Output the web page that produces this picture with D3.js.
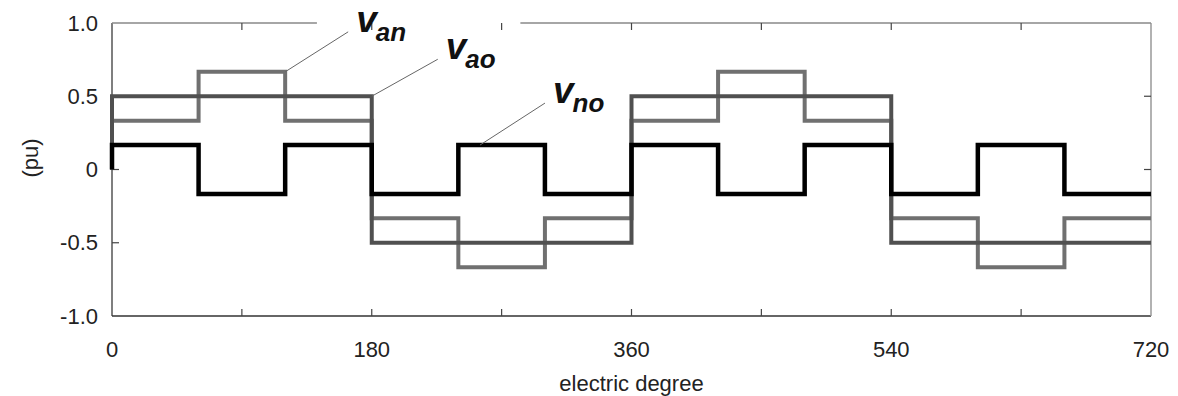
<!DOCTYPE html>
<html>
<head>
<meta charset="utf-8">
<script src="https://cdn.jsdelivr.net/npm/d3@7"></script>
<style>
  html, body { margin: 0; padding: 0; background: #fff; }
  svg text { font-family: "Liberation Sans", Arial, sans-serif; }
</style>
</head>
<body>
<div id="chart"></div>
<script>
// step boundaries (electric degree) and the value held on each 60 deg step
var degrees = [0, 60, 120, 180, 240, 300, 360, 420, 480, 540, 600, 660, 720];
var van = [1/3, 2/3, 1/3, -1/3, -2/3, -1/3, 1/3, 2/3, 1/3, -1/3, -2/3, -1/3];
var vao = [0.5, 0.5, 0.5, -0.5, -0.5, -0.5, 0.5, 0.5, 0.5, -0.5, -0.5, -0.5];
var vno = [1/6, -1/6, 1/6, -1/6, 1/6, -1/6, 1/6, -1/6, 1/6, -1/6, 1/6, -1/6];

var xTicks = [0, 90, 180, 270, 360, 450, 540, 630, 720];
var xTickLabels = [0, 180, 360, 540, 720];
var yTicks = [-1, -0.5, 0, 0.5, 1];
var yTickLabels = ["-1.0", "-0.5", "0", "0.5", "1.0"];

// labels: anchor on the curve + sub text
var labels = [
  { name: "an", deg: 120, val: 2/3, dx: 63, dy: -40 },
  { name: "ao", deg: 180, val: 0.5, dx: 66, dy: -37 },
  { name: "no", deg: 255, val: 1/6, dx: 65, dy: -42 }
];
var topGap = [142, 283]; // top frame line is broken behind the labels

var W = 1178, H = 396;
var margin = { top: 23, right: 27, bottom: 80, left: 112 },
    width = W - margin.left - margin.right,
    height = H - margin.top - margin.bottom;

var svg = d3.select("#chart").append("svg")
    .attr("width", W)
    .attr("height", H);

var g = svg.append("g")
    .attr("transform", "translate(" + margin.left + "," + margin.top + ")");

var x = d3.scaleLinear().domain([0, 720]).range([0, width]);
var y = d3.scaleLinear().domain([-1, 1]).range([height, 0]);

// frame
g.append("line").attr("x1", 0).attr("x2", 0).attr("y1", 0).attr("y2", height)
    .attr("stroke", "#555").attr("stroke-width", 1.5);
g.append("line").attr("x1", 0).attr("x2", width).attr("y1", height).attr("y2", height)
    .attr("stroke", "#333").attr("stroke-width", 1.5);
g.append("line").attr("x1", width).attr("x2", width).attr("y1", 0).attr("y2", height)
    .attr("stroke", "#999").attr("stroke-width", 1.5);
g.append("line").attr("x1", 0).attr("x2", x(topGap[0])).attr("y1", 0).attr("y2", 0)
    .attr("stroke", "#888").attr("stroke-width", 1.5);
g.append("line").attr("x1", x(topGap[1])).attr("x2", width).attr("y1", 0).attr("y2", 0)
    .attr("stroke", "#888").attr("stroke-width", 1.5);

// ticks (inside)
var tl = 7;
xTicks.slice(1, -1).forEach(function(d) {
  g.append("line").attr("x1", x(d)).attr("x2", x(d)).attr("y1", height).attr("y2", height - tl)
      .attr("stroke", "#444").attr("stroke-width", 1.2);
  g.append("line").attr("x1", x(d)).attr("x2", x(d)).attr("y1", 0).attr("y2", tl)
      .attr("stroke", "#444").attr("stroke-width", 1.2);
});
yTicks.slice(1, -1).forEach(function(d) {
  g.append("line").attr("x1", 0).attr("x2", tl).attr("y1", y(d)).attr("y2", y(d))
      .attr("stroke", "#444").attr("stroke-width", 1.2);
  g.append("line").attr("x1", width).attr("x2", width - tl).attr("y1", y(d)).attr("y2", y(d))
      .attr("stroke", "#444").attr("stroke-width", 1.2);
});

// tick labels
g.selectAll(".ylab").data(yTicks).enter().append("text")
    .attr("x", -14)
    .attr("y", function(d) { return y(d); })
    .attr("dy", "0.35em")
    .attr("text-anchor", "end")
    .attr("font-size", 22)
    .attr("fill", "#222")
    .text(function(d, i) { return yTickLabels[i]; });

g.selectAll(".xlab").data(xTickLabels).enter().append("text")
    .attr("x", function(d) { return x(d); })
    .attr("y", height + 33)
    .attr("dy", "0.35em")
    .attr("text-anchor", "middle")
    .attr("font-size", 22)
    .attr("fill", "#222")
    .text(function(d) { return d; });

g.append("text")
    .attr("x", width / 2)
    .attr("y", height + 67)
    .attr("dy", "0.35em")
    .attr("text-anchor", "middle")
    .attr("font-size", 22)
    .attr("fill", "#222")
    .text("electric degree");

svg.append("text")
    .attr("transform", "translate(30," + 158 + ") rotate(-90)")
    .attr("dy", "0.35em")
    .attr("text-anchor", "middle")
    .attr("font-size", 22)
    .attr("fill", "#222")
    .text("(pu)");

// waveforms
function pts(vals) {
  var p = [[0, 0]];
  vals.forEach(function(v, i) { p.push([degrees[i], v]); });
  p.push([degrees[degrees.length - 1], vals[vals.length - 1]]);
  return p;
}
var line = d3.line()
    .x(function(d) { return x(d[0]); })
    .y(function(d) { return y(d[1]); })
    .curve(d3.curveStepAfter);

var series = [
  { vals: van, color: "#707070", w: 4 },
  { vals: vao, color: "#505050", w: 4 },
  { vals: vno, color: "#000", w: 4.5 }
];
series.forEach(function(s) {
  g.append("path")
      .attr("d", line(pts(s.vals)))
      .attr("fill", "none")
      .attr("stroke", s.color)
      .attr("stroke-width", s.w)
      .attr("stroke-linejoin", "miter");
});

// labels with leaders
labels.forEach(function(l) {
  var x0 = x(l.deg), y0 = y(l.val);
  g.append("line")
      .attr("x1", x0).attr("y1", y0)
      .attr("x2", x0 + l.dx).attr("y2", y0 + l.dy)
      .attr("stroke", "#666").attr("stroke-width", 1);
  var t = g.append("text")
      .attr("x", x0 + l.dx + 8)
      .attr("y", y0 + l.dy)
      .attr("font-weight", "bold")
      .attr("font-style", "italic")
      .attr("fill", "#111");
  t.append("tspan").attr("font-size", 37).text("v");
  t.append("tspan").attr("font-size", 26).attr("dy", 9).attr("dx", -1).text(l.name);
});
</script>
</body>
</html>
